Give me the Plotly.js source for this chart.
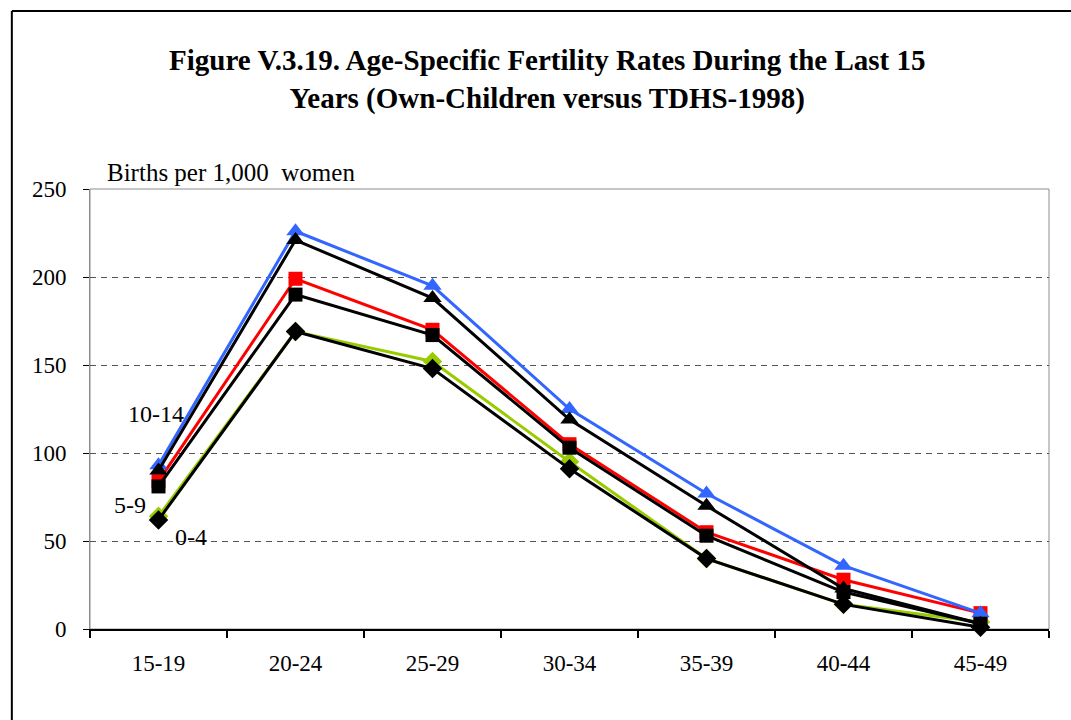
<!DOCTYPE html>
<html>
<head>
<meta charset="utf-8">
<script src="https://cdn.plot.ly/plotly-3.0.1.min.js"></script>
<style>
  html, body { margin: 0; padding: 0; background: #fff; }
  #chart { width: 1071px; height: 720px; }
</style>
</head>
<body>
<div id="chart"></div>
<script>
const categories = ['15-19', '20-24', '25-29', '30-34', '35-39', '40-44', '45-49'];
const yTickVals = [0, 50, 100, 150, 200, 250];

// TDHS-1998 (coloured) and own-children (black) estimates by period before survey
const tdhs_10_14 = [93, 226, 195, 125, 77, 36, 9];
const own_10_14  = [90, 221, 188, 119, 70, 23, 3];
const tdhs_5_9   = [84, 199, 170, 105, 55, 28, 9];
const own_5_9    = [81, 190, 167, 103, 53, 21, 3];
const tdhs_0_4   = [64, 169, 152, 95, 40, 14, 4];
const own_0_4    = [62, 169, 148, 91, 40, 14, 1];

const periodLabels = ['10-14', '5-9', '0-4'];

const serif = '"Liberation Serif", "Times New Roman", serif';

function tr(y, color, symbol, size, name) {
  return {
    x: categories, y: y, type: 'scatter', mode: 'lines+markers', name: name,
    line: { color: color, width: 3 },
    marker: { color: color, symbol: symbol, size: size, line: { width: 0 } },
    cliponaxis: false, showlegend: false, hoverinfo: 'x+y'
  };
}

const data = [
  tr(tdhs_0_4, '#99CC00', 'diamond', 15, 'TDHS 0-4'),
  tr(tdhs_5_9, '#FF0000', 'square', 14, 'TDHS 5-9'),
  tr(tdhs_10_14, '#3366FF', 'triangle-up', 16, 'TDHS 10-14'),
  tr(own_0_4, '#000000', 'diamond', 15, 'Own 0-4'),
  tr(own_5_9, '#000000', 'square', 14, 'Own 5-9'),
  tr(own_10_14, '#000000', 'triangle-up', 16, 'Own 10-14')
];

const layout = {
  width: 1071, height: 720,
  margin: { l: 90, r: 22, t: 189, b: 91 },
  paper_bgcolor: '#ffffff', plot_bgcolor: '#ffffff',
  font: { family: serif, color: '#000000', size: 23 },
  title: {
    text: '<b>Figure V.3.19. Age-Specific Fertility Rates During the Last 15<br>Years (Own-Children versus TDHS-1998)</b>',
    font: { family: serif, size: 29, color: '#000' },
    x: 0.511, xanchor: 'center', y: 0.903, yanchor: 'middle'
  },
  xaxis: {
    type: 'category', range: [-0.5, 6.5],
    showline: true, linecolor: '#000', linewidth: 1.5,
    ticks: 'outside', tickson: 'boundaries', ticklen: 7, tickcolor: '#000', tickwidth: 1.2,
    tickfont: { family: serif, size: 23, color: '#000' },
    ticklabelstandoff: 13,
    showgrid: false, zeroline: false, fixedrange: true
  },
  yaxis: {
    range: [0, 250], tickvals: yTickVals,
    showline: true, linecolor: '#8c8c8c', linewidth: 1,
    ticks: 'outside', ticklen: 6, tickcolor: '#000', tickwidth: 1,
    tickfont: { family: serif, size: 23, color: '#000' },
    ticklabelstandoff: 12,
    showgrid: true, gridcolor: '#555555', griddash: '6px,5px', gridwidth: 1,
    zeroline: false, fixedrange: true
  },
  shapes: [
    // plot area frame (grey)
    { type: 'rect', xref: 'paper', yref: 'paper', x0: 0, x1: 1, y0: 0, y1: 1,
      line: { color: '#8c8c8c', width: 1 }, layer: 'below' },
    // outer figure frame (top and left edges)
    { type: 'line', xref: 'paper', yref: 'paper', x0: -0.0815, x1: 1.05, y0: 1.4045, y1: 1.4045,
      line: { color: '#000', width: 2 } },
    { type: 'line', xref: 'paper', yref: 'paper', x0: -0.0815, x1: -0.0815, y0: -0.25, y1: 1.4045,
      line: { color: '#000', width: 2 } }
  ],
  annotations: [
    { text: 'Births per 1,000&nbsp;&nbsp;women', xref: 'paper', yref: 'paper',
      x: 0.0155, y: 1.0386, xanchor: 'left', yanchor: 'middle', showarrow: false,
      font: { family: serif, size: 25, color: '#000' } },
    { text: periodLabels[0], xref: 'x', yref: 'y', x: -0.02, y: 122, showarrow: false,
      xanchor: 'center', yanchor: 'middle', font: { family: serif, size: 24, color: '#000' } },
    { text: periodLabels[1], xref: 'x', yref: 'y', x: -0.21, y: 70.5, showarrow: false,
      xanchor: 'center', yanchor: 'middle', font: { family: serif, size: 24, color: '#000' } },
    { text: periodLabels[2], xref: 'x', yref: 'y', x: 0.24, y: 52.5, showarrow: false,
      xanchor: 'center', yanchor: 'middle', font: { family: serif, size: 24, color: '#000' } }
  ]
};

Plotly.newPlot('chart', data, layout, { displayModeBar: false, staticPlot: true });
</script>
</body>
</html>
